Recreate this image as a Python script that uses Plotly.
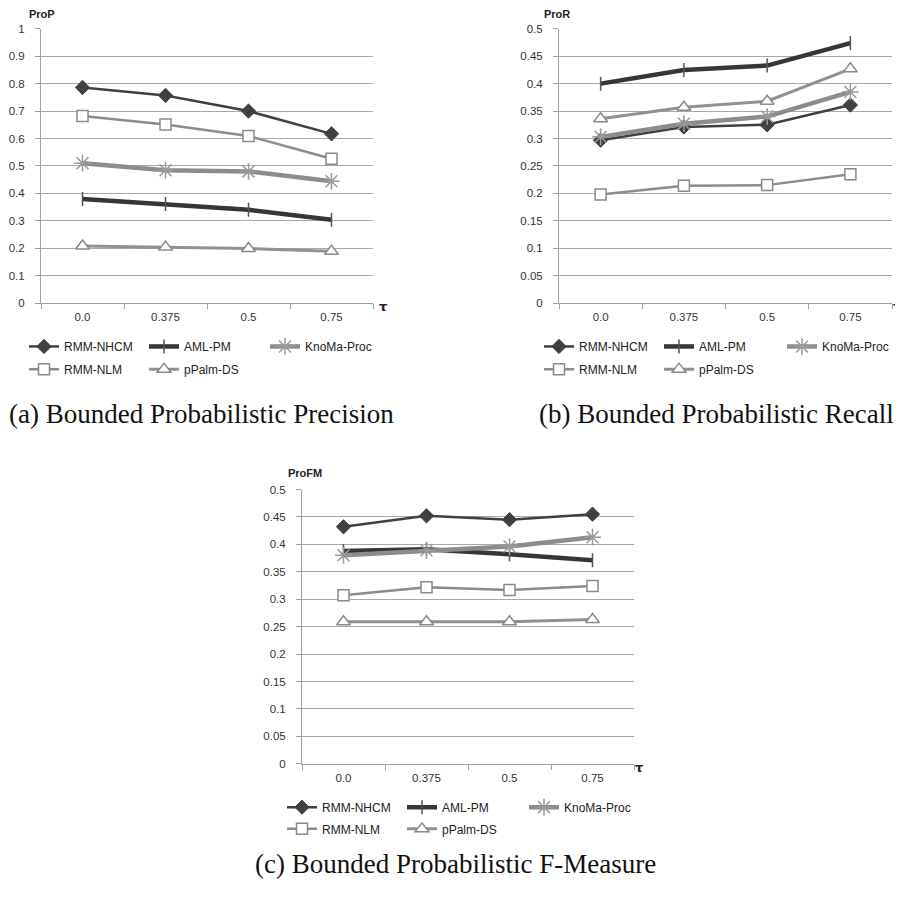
import plotly.graph_objects as go

# window is 903x898; the page body adds an 8px margin, so the figure is drawn 8px in
W, H = 903, 898
OFF = 8
FW, FH = W - OFF, H - OFF

categories = ["0.0", "0.375", "0.5", "0.75"]
series_names = ["RMM-NHCM", "AML-PM", "KnoMa-Proc", "RMM-NLM", "pPalm-DS"]

# (a) Bounded Probabilistic Precision
prop_rmm_nhcm = [0.786, 0.757, 0.700, 0.617]
prop_aml_pm = [0.379, 0.361, 0.340, 0.304]
prop_knoma_proc = [0.510, 0.484, 0.480, 0.444]
prop_rmm_nlm = [0.682, 0.651, 0.609, 0.526]
prop_ppalm_ds = [0.208, 0.204, 0.199, 0.189]

# (b) Bounded Probabilistic Recall
pror_rmm_nhcm = [0.297, 0.321, 0.325, 0.361]
pror_aml_pm = [0.400, 0.425, 0.433, 0.474]
pror_knoma_proc = [0.303, 0.327, 0.340, 0.385]
pror_rmm_nlm = [0.198, 0.214, 0.215, 0.235]
pror_ppalm_ds = [0.336, 0.357, 0.368, 0.427]

# (c) Bounded Probabilistic F-Measure
profm_rmm_nhcm = [0.432, 0.452, 0.445, 0.455]
profm_aml_pm = [0.388, 0.391, 0.382, 0.371]
profm_knoma_proc = [0.380, 0.389, 0.396, 0.413]
profm_rmm_nlm = [0.307, 0.322, 0.317, 0.324]
profm_ppalm_ds = [0.259, 0.259, 0.259, 0.263]

panels = [
    dict(values=[prop_rmm_nhcm, prop_aml_pm, prop_knoma_proc, prop_rmm_nlm, prop_ppalm_ds],
         ymax=1.0, dtick=0.1, ylabel="ProP",
         caption="(a) Bounded Probabilistic Precision"),
    dict(values=[pror_rmm_nhcm, pror_aml_pm, pror_knoma_proc, pror_rmm_nlm, pror_ppalm_ds],
         ymax=0.5, dtick=0.05, ylabel="ProR",
         caption="(b) Bounded Probabilistic Recall"),
    dict(values=[profm_rmm_nhcm, profm_aml_pm, profm_knoma_proc, profm_rmm_nlm, profm_ppalm_ds],
         ymax=0.5, dtick=0.05, ylabel="ProFM",
         caption="(c) Bounded Probabilistic F-Measure"),
]

# pixel geometry in the window (left, right, top, bottom) of each plot area
boxes = [(41, 373, 23, 301), (559, 892, 23, 301), (302, 634, 490, 768)]
# legend text starts and row centres, caption centres (window pixels)
legend_text_x = [[62, 182, 303, 62, 182], [577, 697, 820, 577, 697], [320, 440, 562, 320, 440]]
legend_y = [[345, 345, 345, 368, 368], [345, 345, 345, 368, 368], [812, 812, 812, 834, 834]]
captions_xy = [(201, 413), (716, 413), (455, 870)]
ylabel_xy = [(42, 8), (557, 8), (305, 473)]
tau_xy = [(383, 305), (897, 305), (639, 772)]

styles = [
    dict(line=dict(color="#404040", width=2.5),
         marker=dict(symbol="diamond", size=11, color="#404040", line=dict(color="#404040", width=1))),
    dict(line=dict(color="#363636", width=4.5),
         marker=dict(symbol="line-ns-open", size=10, color="#555555", line=dict(color="#555555", width=1.5))),
    dict(line=dict(color="#8c8c8c", width=4.5),
         marker=dict(symbol="asterisk-open", size=14, color="#9a9a9a", line=dict(color="#9a9a9a", width=1.5))),
    dict(line=dict(color="#8c8c8c", width=2.5),
         marker=dict(symbol="square", size=11, color="white", line=dict(color="#8a8a8a", width=1.5))),
    dict(line=dict(color="#919191", width=3),
         marker=dict(symbol="triangle-up", size=12, color="white", line=dict(color="#8a8a8a", width=1.5))),
]

def px(x):
    return (x - OFF) / FW

def py(y):
    return 1 - (y - OFF) / FH

fig = go.Figure()
layout = dict(width=FW, height=FH, margin=dict(l=0, r=0, t=0, b=0), showlegend=True,
              paper_bgcolor="white", plot_bgcolor="white", annotations=[])

tickfont = dict(family="Liberation Sans", size=11.5, color="#333333")
legend_count = 0
for i, p in enumerate(panels):
    l, r, t, b = boxes[i]
    xa = "x" if i == 0 else f"x{i+1}"
    ya = "y" if i == 0 else f"y{i+1}"
    for j, name in enumerate(series_names):
        legend_count += 1
        lname = "legend" if legend_count == 1 else f"legend{legend_count}"
        fig.add_trace(go.Scatter(
            x=categories, y=p["values"][j], name=name, mode="lines+markers",
            xaxis=xa, yaxis=ya, legend=lname, showlegend=True, **styles[j]))
        layout[lname] = dict(
            x=px(legend_text_x[i][j] - 38), y=py(legend_y[i][j]), xanchor="left", yanchor="middle",
            orientation="h", bgcolor="rgba(0,0,0,0)", borderwidth=0, visible=True,
            font=dict(family="Liberation Sans", size=12, color="#222222"),
            itemsizing="trace", itemwidth=30)
    xkey = "xaxis" if i == 0 else f"xaxis{i+1}"
    ykey = "yaxis" if i == 0 else f"yaxis{i+1}"
    layout[xkey] = dict(
        domain=[px(l), px(r)], anchor=ya, type="category", range=[-0.5, 3.5],
        showgrid=False, zeroline=False, showline=True, linecolor="#a0a0a0", linewidth=1,
        ticks="outside", tickson="boundaries", ticklen=5, tickcolor="#a0a0a0",
        ticklabelstandoff=3, tickfont=tickfont, fixedrange=True)
    layout[ykey] = dict(
        domain=[py(b), py(t)], anchor=xa, range=[0, p["ymax"]], dtick=p["dtick"], tick0=0,
        showgrid=True, gridcolor="#a8a8a8", gridwidth=1, zeroline=False,
        showline=True, linecolor="#a0a0a0", linewidth=1,
        ticks="outside", ticklen=5, tickcolor="#a0a0a0", ticklabelstandoff=8,
        tickfont=tickfont, fixedrange=True)
    cx, cy = ylabel_xy[i]
    layout["annotations"].append(dict(
        x=px(cx), y=py(cy), xref="paper", yref="paper", xanchor="center", yanchor="middle",
        text="<b>" + p["ylabel"] + "</b>",
        showarrow=False, font=dict(family="Liberation Sans", size=11, color="#222222")))
    tx, ty = tau_xy[i]
    layout["annotations"].append(dict(
        x=px(tx), y=py(ty), xref="paper", yref="paper", xanchor="center", yanchor="middle",
        text="<b>τ</b>",
        showarrow=False, font=dict(family="DejaVu Sans", size=13, color="#222222")))
    kx, ky = captions_xy[i]
    layout["annotations"].append(dict(
        x=px(kx), y=py(ky), xref="paper", yref="paper", xanchor="center", yanchor="middle",
        text=p["caption"],
        showarrow=False, font=dict(family="Liberation Serif", size=27, color="#111111")))

fig.update_layout(**layout)
fig.write_html("out.html")
